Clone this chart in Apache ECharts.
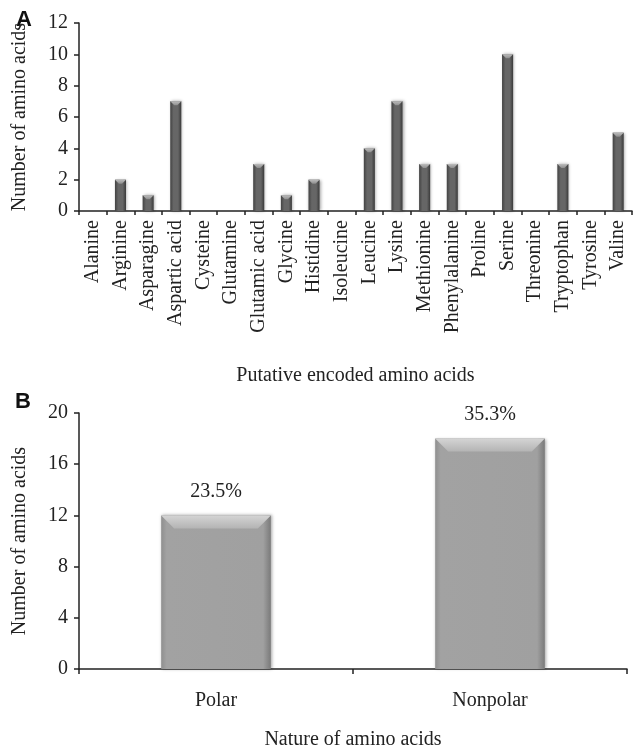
<!DOCTYPE html>
<html>
<head>
<meta charset="utf-8">
<script src="https://cdn.jsdelivr.net/npm/echarts@6/dist/echarts.min.js"></script>
<style>
  html, body { margin: 0; padding: 0; background: #fff; }
  #main { width: 637px; height: 751px; }
</style>
</head>
<body>
<div id="main"></div>
<script>
// panel A: putative encoded amino acids
var aminoAcids = ['Alanine', 'Arginine', 'Asparagine', 'Aspartic acid', 'Cysteine', 'Glutamine',
  'Glutamic acid', 'Glycine', 'Histidine', 'Isoleucine', 'Leucine', 'Lysine', 'Methionine',
  'Phenylalanine', 'Proline', 'Serine', 'Threonine', 'Tryptophan', 'Tyrosine', 'Valine'];
var aminoCounts = [0, 2, 1, 7, 0, 0, 3, 1, 2, 0, 4, 7, 3, 3, 0, 10, 0, 3, 0, 5];

// panel B: nature of amino acids
var natureCats = ['Polar', 'Nonpolar'];
var natureCounts = [12, 18];
var naturePercents = ['23.5%', '35.3%'];

var serif = 'Liberation Serif';
var txt = '#222';

var chart = echarts.init(document.getElementById('main'));

// bar with a bevelled top, drawn from the axis coords
function bevelBar(opt) {
  return function (params, api) {
    var idx = api.value(0), val = api.value(1);
    if (!val) return;
    var top = api.coord([idx, val]);
    var base = api.coord([idx, 0]);
    var w = api.size([1, 0])[0] * 0.4;
    var x0 = top[0] - w / 2, y0 = top[1], h = base[1] - top[1];
    var b = opt.bevel;
    var kids = [{
      type: 'rect',
      shape: { x: x0, y: y0, width: w, height: h },
      style: {
        fill: new echarts.graphic.LinearGradient(0, 0, 1, 0, opt.body),
        shadowBlur: 3, shadowColor: 'rgba(0,0,0,0.35)', shadowOffsetX: 1, shadowOffsetY: 0
      }
    }, {
      type: 'polygon',
      shape: { points: [[x0, y0], [x0 + w, y0], [x0 + w - b, y0 + b], [x0 + b, y0 + b]] },
      style: { fill: new echarts.graphic.LinearGradient(0, 0, 0, 1, opt.cap) }
    }];
    if (opt.labels) {
      kids.push({
        type: 'text',
        style: {
          x: top[0], y: y0 - 24, text: opt.labels[params.dataIndex],
          align: 'center', verticalAlign: 'middle',
          fontFamily: serif, fontSize: 20, fill: txt
        }
      });
    }
    return { type: 'group', children: kids };
  };
}

var axisLine = { show: true, lineStyle: { color: '#222', width: 1.5 } };

var option = {
  backgroundColor: '#fff',
  animation: false,
  graphic: [
    { type: 'text', left: 16, top: 9, style: { text: 'A', font: 'bold 22px Liberation Sans', fill: '#111' } },
    { type: 'text', left: 15, top: 391, style: { text: 'B', font: 'bold 22px Liberation Sans', fill: '#111' } }
  ],
  grid: [
    { left: 79, right: 5, top: 23, height: 188 },
    { left: 79, right: 10, top: 413, height: 270 }
  ],
  xAxis: [{
    type: 'category', gridIndex: 0, data: aminoAcids,
    name: 'Putative encoded amino acids', nameLocation: 'middle', nameGap: 155,
    nameTextStyle: { fontFamily: serif, fontSize: 20, color: txt },
    axisLine: axisLine,
    axisTick: { show: true, length: 4, lineStyle: { color: '#222', width: 1.5 } },
    axisLabel: { rotate: 90, margin: 9, fontFamily: serif, fontSize: 20, color: txt, interval: 0 }
  }, {
    type: 'category', gridIndex: 1, data: natureCats,
    name: 'Nature of amino acids', nameLocation: 'middle', nameGap: 61,
    nameTextStyle: { fontFamily: serif, fontSize: 20, color: txt },
    axisLine: axisLine,
    axisTick: { show: true, length: 5, lineStyle: { color: '#222', width: 1.5 } },
    axisLabel: { margin: 22, fontFamily: serif, fontSize: 20, color: txt }
  }],
  yAxis: [{
    type: 'value', gridIndex: 0, min: 0, max: 12, interval: 2,
    name: 'Number of amino acids', nameLocation: 'middle', nameGap: 49,
    nameTextStyle: { fontFamily: serif, fontSize: 20, color: txt },
    axisLine: axisLine,
    axisTick: { show: true, length: 5, lineStyle: { color: '#222', width: 1.5 } },
    splitLine: { show: false },
    axisLabel: { margin: 11, fontFamily: serif, fontSize: 20, color: txt }
  }, {
    type: 'value', gridIndex: 1, min: 0, max: 20, interval: 4,
    name: 'Number of amino acids', nameLocation: 'middle', nameGap: 49,
    nameTextStyle: { fontFamily: serif, fontSize: 20, color: txt },
    axisLine: axisLine,
    axisTick: { show: true, length: 5, lineStyle: { color: '#222', width: 1.5 } },
    splitLine: { show: false },
    axisLabel: { margin: 11, fontFamily: serif, fontSize: 20, color: txt }
  }],
  series: [{
    type: 'custom', xAxisIndex: 0, yAxisIndex: 0,
    encode: { x: 0, y: 1 },
    data: aminoCounts.map(function (v, i) { return [i, v]; }),
    renderItem: bevelBar({
      bevel: 4,
      body: [{ offset: 0, color: '#424242' }, { offset: 0.3, color: '#666666' },
             { offset: 0.7, color: '#666666' }, { offset: 1, color: '#3a3a3a' }],
      cap: [{ offset: 0, color: '#bcbcbc' }, { offset: 1, color: '#8e8e8e' }]
    })
  }, {
    type: 'custom', xAxisIndex: 1, yAxisIndex: 1,
    encode: { x: 0, y: 1 },
    data: natureCounts.map(function (v, i) { return [i, v]; }),
    renderItem: bevelBar({
      bevel: 13,
      labels: naturePercents,
      body: [{ offset: 0, color: '#8f8f8f' }, { offset: 0.05, color: '#a2a2a2' },
             { offset: 0.93, color: '#a0a0a0' }, { offset: 1, color: '#7a7a7a' }],
      cap: [{ offset: 0, color: '#d4d4d4' }, { offset: 1, color: '#b4b4b4' }]
    })
  }]
};

chart.setOption(option);
</script>
</body>
</html>
